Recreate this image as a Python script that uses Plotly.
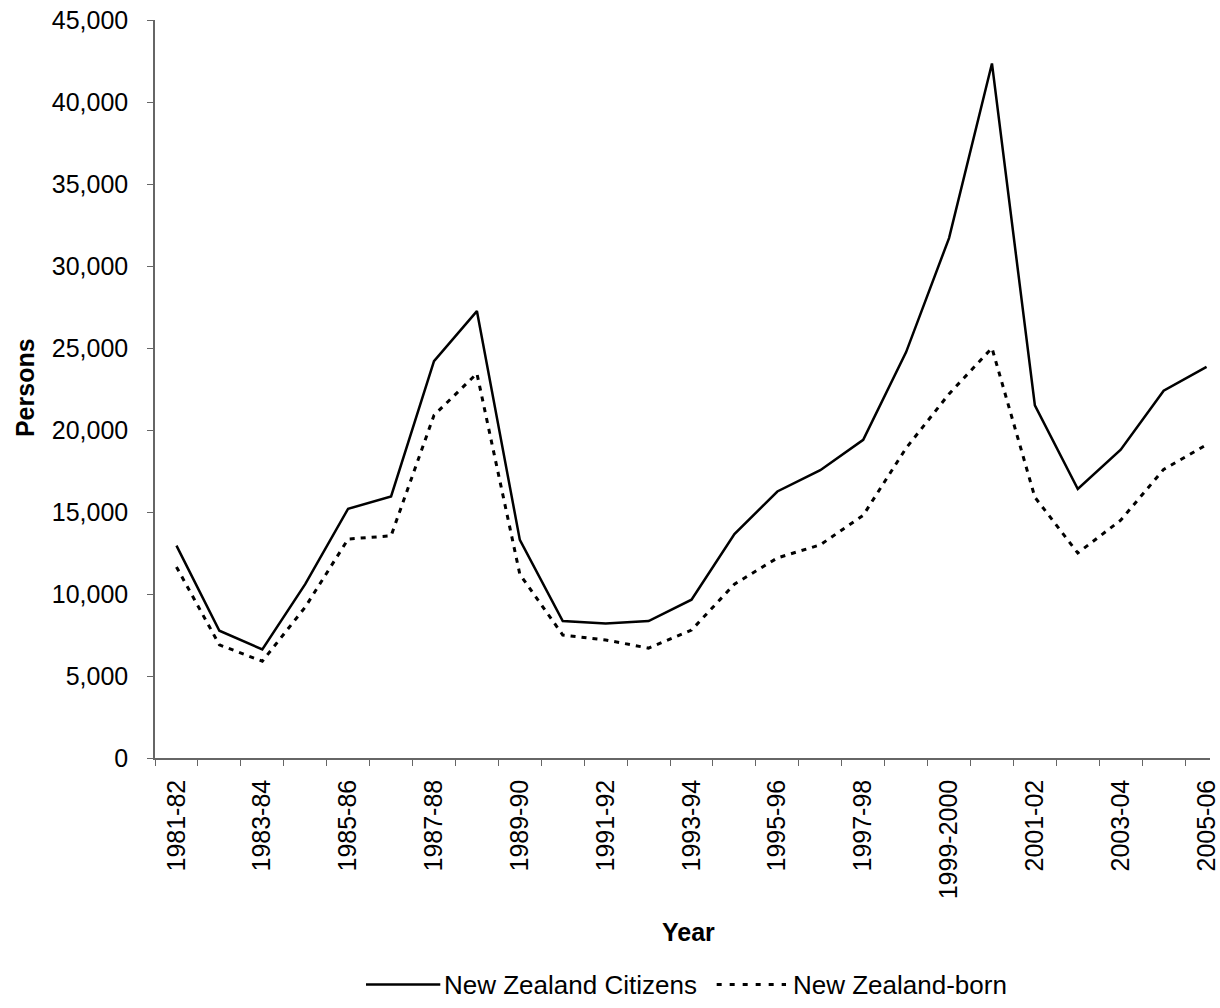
import plotly.graph_objects as go

years = ["1981-82", "1982-83", "1983-84", "1984-85", "1985-86", "1986-87", "1987-88",
         "1988-89", "1989-90", "1990-91", "1991-92", "1992-93", "1993-94", "1994-95",
         "1995-96", "1996-97", "1997-98", "1998-99", "1999-2000", "2000-01", "2001-02",
         "2002-03", "2003-04", "2004-05", "2005-06"]

nz_citizens = [12950, 7760, 6620, 10600, 15200, 15950, 24200, 27250, 13300, 8350,
               8200, 8350, 9650, 13650, 16250, 17550, 19400, 24750, 31700, 42350,
               21500, 16400, 18800, 22400, 23850]

nz_born = [11650, 6900, 5900, 9200, 13350, 13550, 20900, 23450, 11200, 7500,
           7200, 6700, 7800, 10600, 12200, 13000, 14800, 18900, 22200, 25000,
           15900, 12500, 14500, 17600, 19100]

tick_text = [y if i % 2 == 0 else "" for i, y in enumerate(years)]

W, H = 1220, 1008
L, T = 155, 20
B_PX = 758.3
R = 0
plot_w = W - L - R
plot_h = B_PX - T

def px_x(p):
    return (p - L) / plot_w

def px_y(p):
    return (B_PX - p) / plot_h

FONT = "Liberation Sans, Arial, sans-serif"
FS = 25
LEG_FS = 26
AXC = "#666666"

fig = go.Figure()
fig.add_trace(go.Scatter(x=years, y=nz_citizens, mode="lines", name="New Zealand Citizens",
                         line=dict(color="black", width=2.5), showlegend=False))
fig.add_trace(go.Scatter(x=years, y=nz_born, mode="lines", name="New Zealand-born",
                         line=dict(color="black", width=3, dash="5px,6px"), showlegend=False))

fig.update_layout(
    width=W, height=H,
    margin=dict(l=L, r=R, t=T, b=H - B_PX),
    paper_bgcolor="white", plot_bgcolor="white",
    font=dict(family=FONT, size=FS, color="black"),
    xaxis=dict(type="category", categoryorder="array", categoryarray=years,
               range=[-0.5, 24.08], tickmode="array", tickvals=years, ticktext=tick_text,
               tickson="boundaries", ticks="outside", ticklen=6, tickcolor=AXC,
               tickangle=-90, showline=True, linecolor=AXC, linewidth=1.5,
               showgrid=False, zeroline=False, ticklabelstandoff=10,
               tickfont=dict(family=FONT, size=FS, color="black")),
    yaxis=dict(range=[0, 45000], dtick=5000, tickformat=",", ticks="outside", ticklen=6,
               tickcolor=AXC, showline=True, linecolor=AXC, linewidth=1.5,
               showgrid=False, zeroline=False, ticklabelstandoff=14,
               tickfont=dict(family=FONT, size=FS, color="black")),
)

annotations = [
    dict(text="<b>Persons</b>", x=px_x(24), y=px_y(388), xref="paper", yref="paper",
         textangle=-90, showarrow=False, xanchor="center", yanchor="middle",
         font=dict(family=FONT, size=FS, color="black")),
    dict(text="<b>Year</b>", x=px_x(694), y=px_y(932), xref="paper", yref="paper",
         showarrow=False, xanchor="center", yanchor="middle",
         font=dict(family=FONT, size=FS, color="black")),
    dict(text="New Zealand Citizens", x=px_x(445), y=px_y(985), xref="paper", yref="paper",
         showarrow=False, xanchor="left", yanchor="middle",
         font=dict(family=FONT, size=LEG_FS, color="black")),
    dict(text="New Zealand-born", x=px_x(797), y=px_y(985), xref="paper", yref="paper",
         showarrow=False, xanchor="left", yanchor="middle",
         font=dict(family=FONT, size=LEG_FS, color="black")),
]
shapes = [
    dict(type="line", xref="paper", yref="paper", x0=px_x(368), x1=px_x(443),
         y0=px_y(985), y1=px_y(985), line=dict(color="black", width=2.5)),
    dict(type="line", xref="paper", yref="paper", x0=px_x(722), x1=px_x(792),
         y0=px_y(985), y1=px_y(985), line=dict(color="black", width=3, dash="5px,8px")),
]
fig.update_layout(annotations=annotations, shapes=shapes)

fig.write_html("out.html", config={"displayModeBar": False},
               post_script="document.body.style.margin='0';document.body.style.overflow='hidden';")
